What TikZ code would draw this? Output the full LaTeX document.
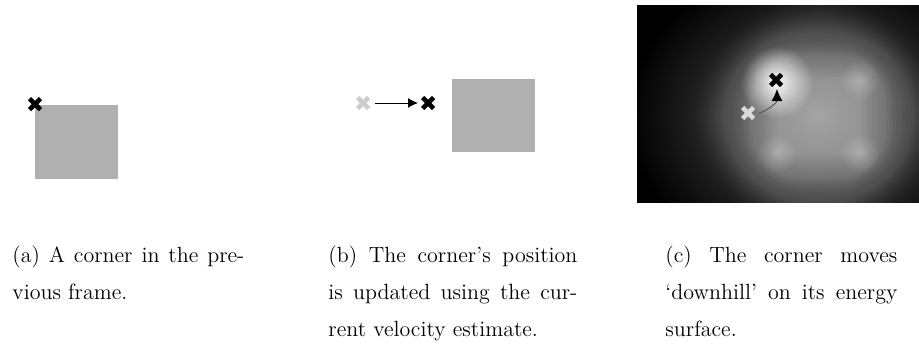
\documentclass[tikz,border=0pt]{standalone}
\usepackage{xcolor}
\usepackage{tikz}
\usetikzlibrary{arrows.meta,fadings}

\tikzfading[name=glowfade, inner color=transparent!0, outer color=transparent!100]

\begin{document}
\begin{tikzpicture}[x=0.5pt, y=-0.5pt,
    blob/.style={fill=black!31, draw=none},
    velarrow/.style={draw=black, line width=0.5pt, -{Latex[length=5pt,width=5pt]}},
    caption/.style={anchor=north west, inner sep=0pt, align=justify, font=\fontsize{11}{18.5}\selectfont},
    pics/cornerx/.style={code={
        \draw[line width=2.3pt] (-5.5,-5.5) -- (5.5,5.5) (-5.5,5.5) -- (5.5,-5.5);
    }}]

    \useasboundingbox (0,0) rectangle (919,343);

    % Panel (a)
    \fill[blob] (35,105) rectangle (118,179);
    \coordinate (cornera) at (35,104);
    \pic[black] at (cornera) {cornerx};
    \node[caption, text width=116pt] (capa) at (12,246)
        {(a) A corner in the pre-\linebreak vious frame.};

    % Panel (b)
    \fill[blob] (452,79) rectangle (535,152);
    \coordinate (oldb) at (363,103);
    \coordinate (newb) at (428,103);
    \pic[black!20] at (oldb) {cornerx};
    \pic[black] at (newb) {cornerx};
    \draw[velarrow, shorten <=6pt, shorten >=5pt] (oldb) -- (newb);
    \node[caption, text width=124.5pt] (capb) at (328,246)
        {(b) The corner’s position\linebreak is updated using the cur-\linebreak rent velocity estimate.};

    % Panel (c)
    \begin{scope}
        \clip (637,5) rectangle (919,203);
        \fill[black] (637,5) rectangle (919,203);
        \fill[white, fill opacity=0.35, path fading=glowfade] (818,116) ellipse (190 and 155);
        \foreach \r in {0,3,...,105} {
            \pgfmathsetmacro{\op}{0.038*(1-\r/110)}
            \fill[white, fill opacity=\op, rounded corners=0.85*\r] (777-\r,80-\r) rectangle (860+\r,153+\r);
        }
        \foreach \p in {(860,80),(777,153),(860,153)} {
            \fill[white, fill opacity=0.25, path fading=glowfade] \p circle (20);
        }
        \fill[white, fill opacity=0.95, path fading=glowfade] (777,82) circle (36);
    \end{scope}
    \coordinate (oldc) at (748,113);
    \coordinate (newc) at (776,80);
    \coordinate (tipc) at (777,89);
    \pic[black!15] at (oldc) {cornerx};
    \pic[black] at (newc) {cornerx};
    \draw[velarrow, draw=black!65, arrows={-{Latex[length=6pt,width=5.5pt,black]}}, shorten <=5.5pt] (oldc) to[out=0, in=-90] (tipc);
    \node[caption, text width=116pt] (capc) at (665,246)
        {(c) The corner moves\linebreak ‘downhill’ on its energy\linebreak surface.};
\end{tikzpicture}
\end{document}
